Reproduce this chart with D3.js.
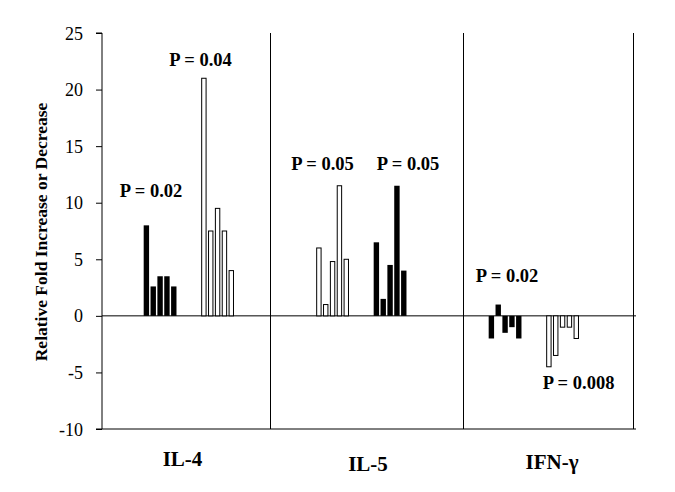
<!DOCTYPE html>
<html><head><meta charset="utf-8">
<script src="https://cdn.jsdelivr.net/npm/d3@7"></script>
<style>
html,body{margin:0;padding:0;background:#fff;}
</style></head>
<body>
<script>
// ---- data ----
const categories = ["IL-4", "IL-5", "IFN-γ"];
const il4Black = [8, 2.6, 3.5, 3.5, 2.6];
const il4White = [21, 7.5, 9.5, 7.5, 4];
const il5White = [6, 1, 4.8, 11.5, 5];
const il5Black = [6.5, 1.5, 4.5, 11.5, 4];
const ifnBlack = [-2, 1, -1.5, -1, -2];
const ifnWhite = [-4.5, -3.5, -1, -1, -2];
const pLabels = ["P = 0.02", "P = 0.04", "P = 0.05", "P = 0.05", "P = 0.02", "P = 0.008"];
const yTicks = [-10, -5, 0, 5, 10, 15, 20, 25];

// groups built from the arrays (slot = group order along x)
const groups = [
  {cat: 0, slot: 0, filled: true,  values: il4Black, p: pLabels[0]},
  {cat: 0, slot: 1, filled: false, values: il4White, p: pLabels[1]},
  {cat: 1, slot: 3, filled: false, values: il5White, p: pLabels[2]},
  {cat: 1, slot: 4, filled: true,  values: il5Black, p: pLabels[3]},
  {cat: 2, slot: 6, filled: true,  values: ifnBlack, p: pLabels[4]},
  {cat: 2, slot: 7, filled: false, values: ifnWhite, p: pLabels[5]}
];

// ---- layout ----
const FONT = "'Liberation Serif','Times New Roman','DejaVu Serif',serif";
const W = 675, H = 492;
const mLeft = 102, mRight = 633, mTop = 33, mBottom = 429;
const catBounds = [-0.725, 2.2, 5.55, 8.51];      // in slot units
const labelLayout = [
  {dx: -9, yv: 10.5}, {dx: -17, yv: 22.1}, {dx: -10, yv: 12.9},
  {dx: 18, yv: 12.9}, {dx: 2, yv: 3.0}, {dx: 16, yv: -6.5}
];
const stride = 6.85, barW = 5.4;

const svg = d3.select("body").append("svg").attr("width", W).attr("height", H);

const x = d3.scaleLinear().domain([catBounds[0], catBounds[3]]).range([mLeft, mRight]);
const y = d3.scaleLinear().domain([-10, 25]).range([mBottom, mTop]);

// y axis
const yAxis = d3.axisLeft(y).tickValues(yTicks).tickSize(6).tickPadding(13).tickFormat(d => String(d));
const gy = svg.append("g").attr("transform", `translate(${mLeft},0)`).call(yAxis);
gy.attr("font-family", null).attr("font-size", null);
gy.select(".domain").attr("stroke", "#000").attr("stroke-width", 1).attr("d", `M-6,${y(25)}H0V${y(-10)}H-6`);
gy.selectAll(".tick line").attr("stroke", "#000");
gy.selectAll(".tick text").style("font-size", "18px").style("font-family", FONT).attr("fill", "#000").attr("dy", "0.34em");

// bottom line and zero line
svg.append("line").attr("x1", mLeft).attr("x2", mRight + 3).attr("y1", y(-10)).attr("y2", y(-10)).attr("stroke", "#000");
svg.append("line").attr("x1", mLeft).attr("x2", mRight + 3).attr("y1", y(0)).attr("y2", y(0)).attr("stroke", "#000");

// category dividers
catBounds.slice(1).forEach(b => {
  svg.append("line").attr("x1", Math.round(x(b)) + 0.5).attr("x2", Math.round(x(b)) + 0.5)
    .attr("y1", y(25)).attr("y2", y(-10)).attr("stroke", "#000");
});

// bars
groups.forEach((g, gi) => {
  const x0 = x(g.slot);
  const sel = svg.append("g").selectAll("rect").data(g.values).join("rect");
  if (g.filled) {
    sel.attr("x", (d, i) => x0 + i * stride)
      .attr("width", barW)
      .attr("y", d => y(Math.max(0, d)))
      .attr("height", d => Math.abs(y(d) - y(0)))
      .attr("fill", "#000");
  } else {
    sel.attr("x", (d, i) => x0 + i * stride + 0.5)
      .attr("width", barW - 1)
      .attr("y", d => y(Math.max(0, d)))
      .attr("height", d => Math.abs(y(d) - y(0)))
      .attr("fill", "#fff").attr("stroke", "#000").attr("stroke-width", 1);
  }
  const cx = x0 + (g.values.length * stride - (stride - barW)) / 2;
  const L = labelLayout[gi];
  svg.append("text").attr("x", cx + L.dx).attr("y", y(L.yv))
    .attr("text-anchor", "middle").style("font-family", FONT).style("font-size", "18.5px").style("font-weight", "bold")
    .attr("fill", "#000").text(g.p);
});

// category labels
const catCentres = [182.5, 368, 552];
const catBase = [466, 471, 469];
categories.forEach((c, i) => {
  svg.append("text").attr("x", catCentres[i]).attr("y", catBase[i])
    .attr("text-anchor", "middle").style("font-family", FONT).style("font-size", "21px").style("font-weight", "bold")
    .attr("fill", "#000").text(c);
});

// y title
svg.append("text").attr("transform", `translate(47,232) rotate(-90)`)
  .attr("text-anchor", "middle").style("font-family", FONT).style("font-size", "17.5px").style("font-weight", "bold")
  .attr("fill", "#000").text("Relative Fold Increase or Decrease");
</script>
</body></html>
